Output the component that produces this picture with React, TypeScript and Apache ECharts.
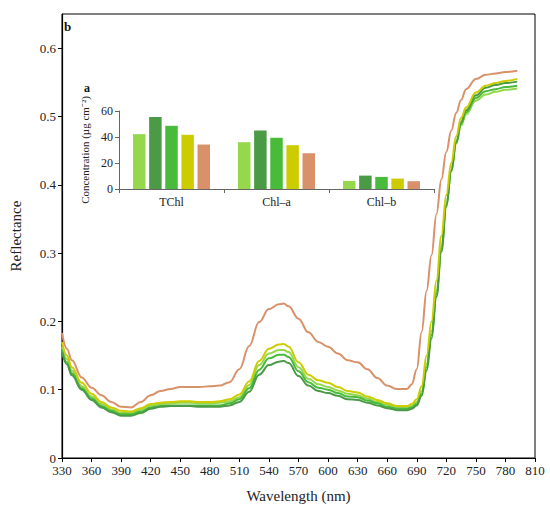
import React, { useEffect, useRef } from "react";
import * as echarts from "echarts";

const wavelengths = [330, 335, 340, 350, 360, 370, 380, 390, 400, 410, 420, 430, 440, 450, 460, 470, 480, 490, 500, 510, 520, 530, 540, 550, 555, 560, 570, 580, 590, 600, 610, 620, 630, 640, 650, 660, 670, 680, 685, 690, 695, 700, 705, 710, 715, 720, 725, 730, 735, 740, 750, 760, 770, 780, 792];

const reflOrange = [0.183, 0.160, 0.143, 0.118, 0.103, 0.092, 0.082, 0.075, 0.074, 0.082, 0.092, 0.098, 0.101, 0.104, 0.104, 0.104, 0.105, 0.106, 0.111, 0.130, 0.164, 0.199, 0.218, 0.225, 0.226, 0.222, 0.204, 0.184, 0.170, 0.163, 0.153, 0.143, 0.140, 0.130, 0.117, 0.106, 0.101, 0.101, 0.108, 0.130, 0.185, 0.245, 0.297, 0.357, 0.408, 0.448, 0.479, 0.505, 0.524, 0.540, 0.555, 0.561, 0.563, 0.565, 0.567];
const reflYellow = [0.170, 0.150, 0.133, 0.110, 0.094, 0.082, 0.074, 0.069, 0.068, 0.073, 0.079, 0.081, 0.082, 0.083, 0.083, 0.082, 0.082, 0.083, 0.086, 0.093, 0.112, 0.142, 0.160, 0.166, 0.167, 0.163, 0.140, 0.122, 0.114, 0.110, 0.104, 0.098, 0.096, 0.090, 0.085, 0.080, 0.076, 0.076, 0.079, 0.086, 0.105, 0.150, 0.200, 0.260, 0.325, 0.385, 0.432, 0.471, 0.498, 0.513, 0.535, 0.545, 0.549, 0.552, 0.555];
const reflLightGreen = [0.163, 0.145, 0.128, 0.105, 0.090, 0.079, 0.071, 0.066, 0.066, 0.071, 0.077, 0.079, 0.080, 0.081, 0.081, 0.080, 0.080, 0.081, 0.083, 0.089, 0.107, 0.136, 0.153, 0.158, 0.158, 0.155, 0.133, 0.116, 0.108, 0.104, 0.099, 0.094, 0.092, 0.087, 0.082, 0.078, 0.074, 0.074, 0.076, 0.082, 0.098, 0.138, 0.186, 0.245, 0.310, 0.372, 0.420, 0.460, 0.487, 0.503, 0.523, 0.532, 0.536, 0.539, 0.541];
const reflGreen = [0.158, 0.140, 0.124, 0.102, 0.087, 0.076, 0.069, 0.064, 0.064, 0.068, 0.074, 0.076, 0.077, 0.077, 0.077, 0.077, 0.077, 0.077, 0.080, 0.086, 0.102, 0.129, 0.146, 0.151, 0.151, 0.148, 0.127, 0.111, 0.103, 0.100, 0.095, 0.090, 0.089, 0.084, 0.080, 0.075, 0.072, 0.072, 0.074, 0.079, 0.094, 0.133, 0.180, 0.240, 0.306, 0.370, 0.420, 0.461, 0.489, 0.506, 0.527, 0.537, 0.540, 0.543, 0.545];
const reflDarkGreen = [0.155, 0.137, 0.121, 0.100, 0.085, 0.074, 0.067, 0.062, 0.062, 0.066, 0.072, 0.075, 0.076, 0.076, 0.076, 0.075, 0.075, 0.075, 0.077, 0.082, 0.097, 0.122, 0.136, 0.141, 0.142, 0.139, 0.120, 0.106, 0.098, 0.095, 0.091, 0.086, 0.085, 0.081, 0.077, 0.073, 0.070, 0.070, 0.072, 0.077, 0.091, 0.128, 0.175, 0.236, 0.302, 0.368, 0.420, 0.463, 0.492, 0.509, 0.531, 0.542, 0.546, 0.549, 0.551];

const categories = ["TChl", "Chl–a", "Chl–b"];
const barLightGreen = [42.2, 36.0, 6.2];
const barDarkGreen = [55.4, 45.0, 10.3];
const barGreen = [48.6, 39.4, 9.3];
const barYellow = [41.7, 33.7, 8.0];
const barOrange = [34.2, 27.5, 6.0];

const xTicks = { min: 330, max: 810, interval: 30 };
const yTicks = { min: 0, max: 0.65, interval: 0.1 };
const insetTicks = { min: 0, max: 60, interval: 20 };

const C_LIGHT = "#96d84c";
const C_DARK = "#4a9a46";
const C_GREEN = "#48bb3a";
const C_YELLOW = "#cccc00";
const C_ORANGE = "#d9916a";

export default function App() {
  const ref = useRef<HTMLDivElement>(null);
  useEffect(() => {
    const chart = echarts.init(ref.current!, null, { renderer: "svg" });
    const font = "'Liberation Serif', 'Times New Roman', serif";
    const pair = (vals: number[]) => wavelengths.map((w, i) => [w, vals[i]]);
    const line = (name: string, vals: number[], color: string) => ({
      name,
      type: "line",
      xAxisIndex: 0,
      yAxisIndex: 0,
      data: pair(vals),
      showSymbol: false,
      smooth: 0.4,
      smoothMonotone: "x",
      lineStyle: { color, width: 2 },
      itemStyle: { color },
      z: 3,
    });
    const bar = (name: string, vals: number[], color: string) => ({
      name: name + "_bar",
      type: "bar",
      xAxisIndex: 1,
      yAxisIndex: 1,
      data: vals,
      barWidth: 12.5,
      barGap: "29%",
      itemStyle: { color },
      z: 4,
    });
    chart.setOption({
      animation: false,
      textStyle: { fontFamily: font },
      grid: [
        { left: 59, top: 14, width: 476, height: 444, show: true, borderColor: "#000", borderWidth: 1, backgroundColor: "transparent" },
        { left: 119, top: 111, width: 315, height: 78 },
      ],
      xAxis: [
        {
          type: "value",
          gridIndex: 0,
          ...xTicks,
          axisLine: { show: true, lineStyle: { color: "#000", width: 1.2 } },
          axisTick: { show: true, length: 4, lineStyle: { color: "#000" } },
          axisLabel: { fontFamily: font, fontSize: 13, color: "#222", margin: 6 },
          splitLine: { show: false },
          name: "Wavelength (nm)",
          nameLocation: "middle",
          nameGap: 30,
          nameTextStyle: { fontFamily: font, fontSize: 15, color: "#222" },
        },
        {
          type: "category",
          gridIndex: 1,
          data: categories,
          axisLine: { show: true, lineStyle: { color: "#666", width: 1 } },
          axisTick: { show: true, length: 4, lineStyle: { color: "#666" } },
          axisLabel: { fontFamily: font, fontSize: 12, color: "#222", margin: 7 },
          splitLine: { show: false },
        },
      ],
      yAxis: [
        {
          type: "value",
          gridIndex: 0,
          ...yTicks,
          axisLine: { show: true, lineStyle: { color: "#000", width: 1.2 } },
          axisTick: { show: true, length: 4, lineStyle: { color: "#000" } },
          axisLabel: {
            fontFamily: font,
            fontSize: 13,
            color: "#222",
            margin: 6,
            showMaxLabel: false,
            formatter: (v: number) => (v > 0.61 ? "" : v === 0 ? "0" : v.toFixed(1)),
          },
          splitLine: { show: false },
          name: "Reflectance",
          nameLocation: "middle",
          nameGap: 39,
          nameTextStyle: { fontFamily: font, fontSize: 15, color: "#222" },
        },
        {
          type: "value",
          gridIndex: 1,
          ...insetTicks,
          axisLine: { show: true, lineStyle: { color: "#666", width: 1 } },
          axisTick: { show: true, length: 4, lineStyle: { color: "#666" } },
          axisLabel: { fontFamily: font, fontSize: 12, color: "#222", margin: 6 },
          splitLine: { show: false },
          name: "Concentration (µg cm⁻²)",
          nameLocation: "middle",
          nameGap: 25,
          nameTextStyle: { fontFamily: font, fontSize: 11, color: "#222" },
        },
      ],
      graphic: [
        { type: "text", left: 64, top: 20, style: { text: "b", font: "bold 13px 'Liberation Serif'", fill: "#111" } },
        { type: "text", left: 84, top: 82, style: { text: "a", font: "bold 12px 'Liberation Serif'", fill: "#111" } },
      ],
      series: [
        line("Light green", reflLightGreen, C_LIGHT),
        line("Green", reflGreen, C_GREEN),
        line("Dark green", reflDarkGreen, C_DARK),
        line("Yellow", reflYellow, C_YELLOW),
        line("Orange", reflOrange, C_ORANGE),
        bar("Light green", barLightGreen, C_LIGHT),
        bar("Dark green", barDarkGreen, C_DARK),
        bar("Green", barGreen, C_GREEN),
        bar("Yellow", barYellow, C_YELLOW),
        bar("Orange", barOrange, C_ORANGE),
      ],
    });
    return () => chart.dispose();
  }, []);
  return <div ref={ref} style={{ position: "absolute", left: 0, top: 0, width: 550, height: 513 }} />;
}
